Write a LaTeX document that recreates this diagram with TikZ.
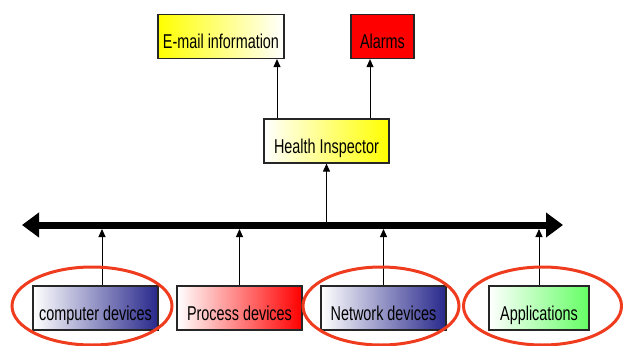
\documentclass[tikz,border=0pt]{standalone}
\usepackage{fontspec}
\setmainfont[FakeStretch=0.72]{Liberation Sans}
\usetikzlibrary{arrows.meta}
\definecolor{navy}{RGB}{40,40,140}
\definecolor{lgreen}{RGB}{100,255,100}
\definecolor{ringred}{RGB}{240,60,30}
\begin{document}
\begin{tikzpicture}[x=1pt, y=-1pt,
    box/.style={draw=black!85, line width=1.2pt, minimum height=44pt, inner sep=0pt,
                text height=24pt, text depth=0pt, font=\fontsize{20}{22}\selectfont},
    arr/.style={line width=1pt, -{Triangle[length=8pt,width=7pt]}},
    ring/.style={draw=ringred, line width=3pt}]
    \useasboundingbox (0, 0) rectangle (623, 345);
    % top row
    \node[box, minimum width=126pt, left color=yellow, right color=white] (email) at (221, 36.5) {E-mail information};
    \node[box, minimum width=63pt, fill=red] (alarms) at (382.5, 36.5) {Alarms};
    \node[box, minimum width=125pt, left color=white, right color=yellow] (inspector) at (326.5, 141) {Health Inspector};
    % bus
    \coordinate (busL) at (22, 225);
    \coordinate (busR) at (563, 225);
    \coordinate (bustop) at (0, 222);
    \coordinate (busbot) at (0, 229);
    \draw[line width=7pt, {Triangle[length=17pt,width=24pt]}-{Triangle[length=17pt,width=24pt]}] (busL) -- (busR);
    % devices
    \node[box, minimum width=125pt, left color=white, right color=navy] (computer) at (95.5, 308) {computer devices};
    \node[box, minimum width=125pt, left color=white, right color=red] (process) at (239.5, 308) {Process devices};
    \node[box, minimum width=125pt, left color=white, right color=navy] (network) at (383.5, 308) {Network devices};
    \node[box, minimum width=100pt, left color=white, right color=lgreen] (apps) at (539, 308) {Applications};
    \draw[arr] ([xshift=6.5pt]computer.north) -- ([xshift=6.5pt]computer.north |- busbot);
    \draw[arr] (process.north) -- (process.north |- busbot);
    \draw[arr] (network.north) -- (network.north |- busbot);
    \draw[arr] (apps.north) -- (apps.north |- busbot);
    \draw[arr] (inspector.south |- bustop) -- (inspector.south);
    \draw[arr] ([xshift=-49.5pt]inspector.north) -- ([xshift=-49.5pt]inspector.north |- email.south);
    \draw[arr] ([xshift=-12.5pt]alarms.south |- inspector.north) -- ([xshift=-12.5pt]alarms.south);
    % rings
    \draw[ring] (92, 306) ellipse [x radius=80pt, y radius=39pt];
    \draw[ring] (381, 306) ellipse [x radius=78pt, y radius=39pt];
    \draw[ring] (542.5, 306) ellipse [x radius=79pt, y radius=39pt];
\end{tikzpicture}
\end{document}
